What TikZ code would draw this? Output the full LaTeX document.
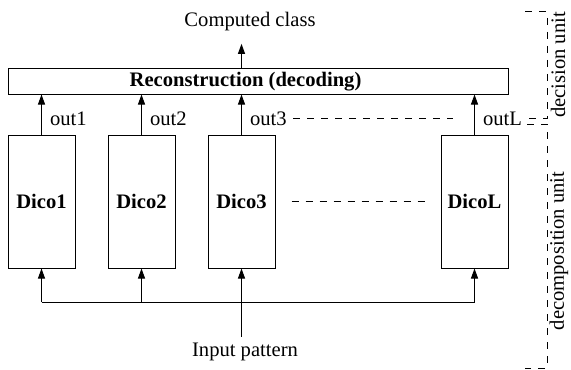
\documentclass[tikz,border=0pt]{standalone}
\usepackage{fontspec}
\setmainfont{Liberation Serif}
\usepackage{tikz}
\usetikzlibrary{arrows.meta, positioning, calc}

\begin{document}
\begin{tikzpicture}[x=0.5pt, y=-0.5pt, line width=0.5pt,
    font=\fontsize{10.3}{12}\selectfont,
    arr/.style={-{Triangle[length=5pt,width=3.5pt]}},
    dashline/.style={dash pattern=on 3.5pt off 3.5pt},
    dico/.style={draw, minimum width=33.5pt, minimum height=66.5pt,
                 inner sep=0pt, font=\fontsize{10.3}{12}\selectfont\bfseries},
    lbl/.style={inner sep=3pt}]
  \useasboundingbox (0,0) rectangle (571,369);
  % decoding box
  \node[draw, minimum width=250pt, minimum height=12.5pt, inner sep=0pt] (rec) at (258,81.5) {};
  \node[lbl, font=\fontsize{10.3}{12}\selectfont\bfseries] (rectxt) at (245.5,82) {Reconstruction (decoding)};
  \node[lbl] (cls) at (250,22) {Computed class};
  \node[lbl] (inp) at (245,352) {Input pattern};
  % the dichotomizers
  \foreach \n/\x in {1/41.5, 2/141.5, 3/241.5, L/474.5}{
    \node[dico] (d\n) at (\x,201.5) {Dico\n};
    \draw[arr] (d\n.north) -- (d\n.north |- rec.south)
      node[pos=0.39, right, lbl, xshift=1pt] (o\n) {out\n};
  }
  \draw[arr, shorten >=3pt] (d3.south |- rec.north) -- (d3.south |- cls.south);
  % input bus
  \coordinate (bus) at (242,302);
  \draw (d1.south |- bus) -- (dL.south |- bus);
  \foreach \n in {1,2,L}{
    \draw[arr] (d\n.south |- bus) -- (d\n.south);
  }
  \draw[arr] (d3.south |- inp.north) -- (d3.south);
  % dots for the remaining ones
  \draw[dashline] (o3.east) -- ([xshift=6pt]dL.west |- o3.east);
  \draw[dashline] ([xshift=8pt]d3.east) -- ([xshift=-8pt]dL.west);
  % units
  \coordinate (dtop) at (525,12);
  \draw[dashline] (dtop) -- ++(22,0) |- (oL.east);
  \draw[dashline] (527,124) -- (547,124) -- (547,368) -- (525,368);
  \node[rotate=90] (dec) at (558,65) {decision unit};
  \node[rotate=90] (cmp) at (559,251) {decomposition unit};
\end{tikzpicture}
\end{document}
